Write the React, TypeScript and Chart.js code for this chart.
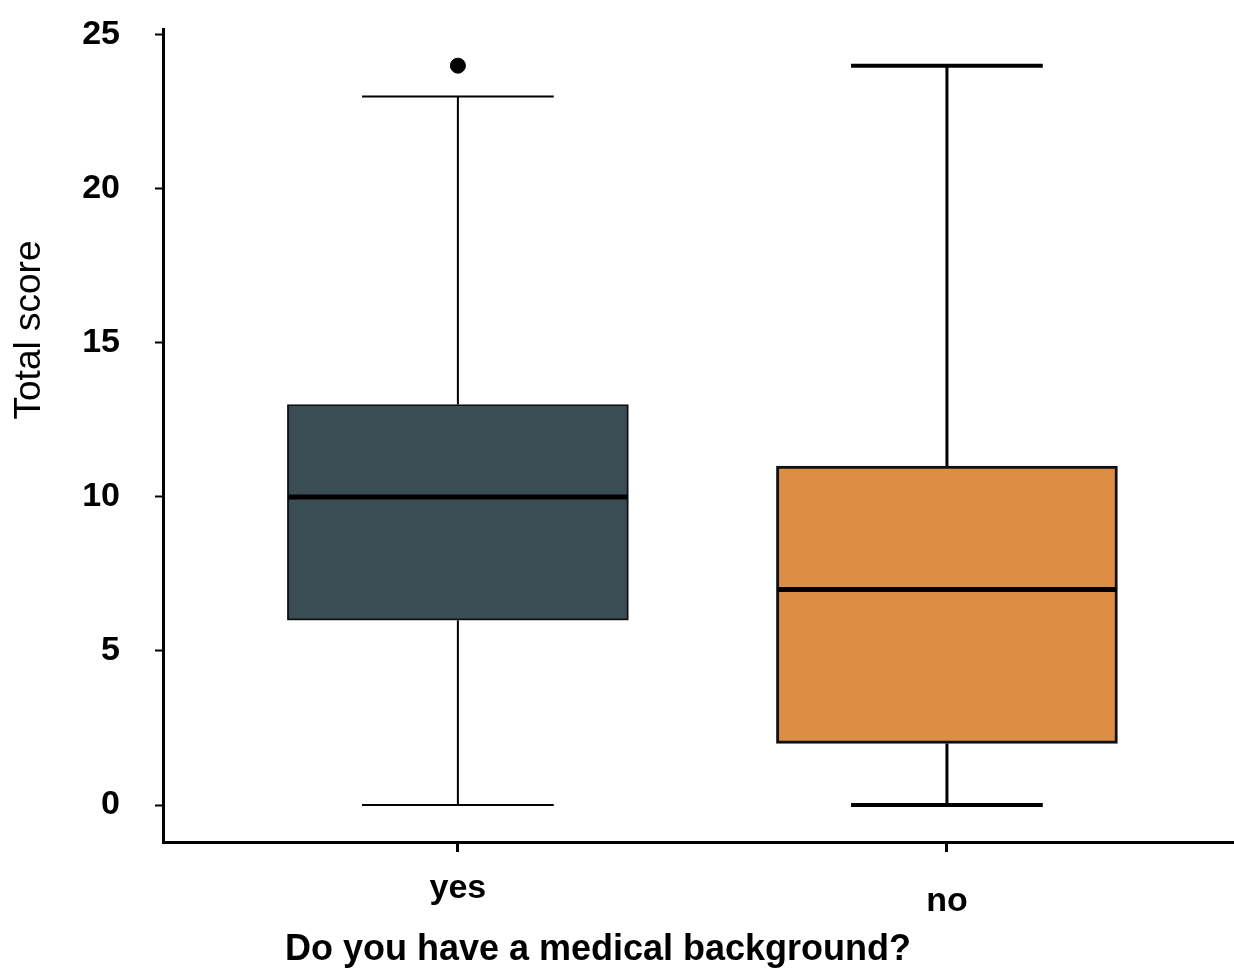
import React, { useEffect, useRef } from "react";
import { Chart, registerables } from "chart.js";

Chart.register(...registerables);

// ---- data ----
const categories = ["yes", "no"];
const lowerWhisker = [0, 0];
const q1 = [6, 2];
const median = [10, 7];
const q3 = [13, 11];
const upperWhisker = [23, 24];
const outlierGroup = [0];
const outlierValue = [24];
const yTickValues = [0, 5, 10, 15, 20, 25];

const yTitle = "Total score";
const xTitle = "Do you have a medical background?";

// ---- styles ----
const boxColors = ["#3b4d54", "#dc8e45"];
const boxBorderWidths = [2, 3];
const whiskerWidths = [2, 3];
const capWidths = [2, 4];
const capHalf = 0.196; // in x units
const boxHalf = 0.349; // in x units
const FONT = "'Liberation Sans', Arial, sans-serif";

const boxParts = {
  id: "boxParts",
  beforeDatasetsDraw(chart: any) {
    const { ctx, scales } = chart;
    const x = scales.x;
    const y = scales.y;
    ctx.save();
    ctx.strokeStyle = "#000";
    categories.forEach((_, i) => {
      const cx = x.getPixelForValue(i);
      ctx.lineWidth = whiskerWidths[i];
      ctx.beginPath();
      ctx.moveTo(cx, y.getPixelForValue(upperWhisker[i]));
      ctx.lineTo(cx, y.getPixelForValue(q3[i]));
      ctx.moveTo(cx, y.getPixelForValue(q1[i]));
      ctx.lineTo(cx, y.getPixelForValue(lowerWhisker[i]));
      ctx.stroke();
      ctx.lineWidth = capWidths[i];
      const l = x.getPixelForValue(i - capHalf);
      const r = x.getPixelForValue(i + capHalf);
      [upperWhisker[i], lowerWhisker[i]].forEach((v) => {
        const py = y.getPixelForValue(v);
        ctx.beginPath();
        ctx.moveTo(l, py);
        ctx.lineTo(r, py);
        ctx.stroke();
      });
    });
    ctx.restore();
  },
  afterDatasetsDraw(chart: any) {
    const { ctx, scales } = chart;
    const x = scales.x;
    const y = scales.y;
    ctx.save();
    ctx.strokeStyle = "#000";
    ctx.lineWidth = 5;
    categories.forEach((_, i) => {
      const py = y.getPixelForValue(median[i]);
      ctx.beginPath();
      ctx.moveTo(x.getPixelForValue(i - boxHalf) + 1, py);
      ctx.lineTo(x.getPixelForValue(i + boxHalf) - 1, py);
      ctx.stroke();
    });
    ctx.restore();
  },
  afterDraw(chart: any) {
    const { ctx } = chart;
    ctx.save();
    ctx.fillStyle = "#000";
    ctx.textAlign = "center";
    ctx.textBaseline = "middle";
    ctx.font = `bold 36px ${FONT}`;
    ctx.fillText(xTitle, 598, 950);
    ctx.translate(30, 330);
    ctx.rotate(-Math.PI / 2);
    ctx.font = `37px ${FONT}`;
    ctx.fillText(yTitle, 0, 0);
    ctx.restore();
  },
};

const zeroPadding = (scale: any) => {
  scale.paddingTop = 0;
  scale.paddingBottom = 0;
  scale.paddingLeft = 0;
  scale.paddingRight = 0;
};

export default function App() {
  const ref = useRef<HTMLCanvasElement | null>(null);

  useEffect(() => {
    if (!ref.current) return;
    const chart = new Chart(ref.current, {
      type: "bar",
      data: {
        datasets: [
          {
            type: "bar",
            data: categories.map((_, i) => ({ x: i, y: [q1[i], q3[i]] })) as any,
            backgroundColor: boxColors,
            borderColor: "#111",
            borderWidth: boxBorderWidths,
            borderSkipped: false,
            barThickness: 341,
          } as any,
          {
            type: "scatter",
            data: outlierGroup.map((g, i) => ({ x: g, y: outlierValue[i] })),
            backgroundColor: "#000",
            borderColor: "#000",
            pointRadius: 7.5,
          } as any,
        ],
      },
      options: {
        responsive: false,
        animation: false,
        events: [],
        layout: { autoPadding: false, padding: { top: 29, left: 0, right: 0, bottom: 0 } },
        plugins: { legend: { display: false }, tooltip: { enabled: false } },
        scales: {
          x: {
            type: "linear",
            min: -0.603,
            max: 1.587,
            offset: false,
            afterBuildTicks: (scale: any) => {
              scale.ticks = categories.map((_, i) => ({ value: i }));
            },
            afterFit: (scale: any) => {
              scale.height = 129;
              zeroPadding(scale);
            },
            grid: {
              display: true,
              offset: false,
              drawOnChartArea: false,
              drawTicks: true,
              tickLength: 10,
              tickWidth: 3,
              tickColor: "#000",
            },
            border: { display: true, color: "#000", width: 3 },
            ticks: {
              autoSkip: false,
              maxRotation: 0,
              padding: 30,
              color: "#000",
              font: { family: FONT, size: 34, weight: "bold", lineHeight: 0.38 },
              callback: (value: any) =>
                value === 1 ? ["", categories[1]] : categories[value as number],
            },
          },
          y: {
            type: "linear",
            min: -1.2,
            max: 25.19,
            afterBuildTicks: (scale: any) => {
              scale.ticks = yTickValues.map((v) => ({ value: v }));
            },
            afterFit: (scale: any) => {
              scale.width = 163;
              zeroPadding(scale);
            },
            grid: {
              display: true,
              drawOnChartArea: false,
              drawTicks: true,
              tickLength: 8,
              tickWidth: 2,
              tickColor: "#000",
            },
            border: { display: true, color: "#000", width: 3 },
            ticks: {
              padding: 35,
              color: "#000",
              font: { family: FONT, size: 34, weight: "bold" },
            },
          },
        },
      } as any,
      plugins: [boxParts],
    });
    return () => chart.destroy();
  }, []);

  return (
    <div style={{ position: "fixed", left: 0, top: 0, width: 1234, height: 971, background: "#fff" }}>
      <canvas ref={ref} width={1234} height={971} style={{ display: "block" }} />
    </div>
  );
}
